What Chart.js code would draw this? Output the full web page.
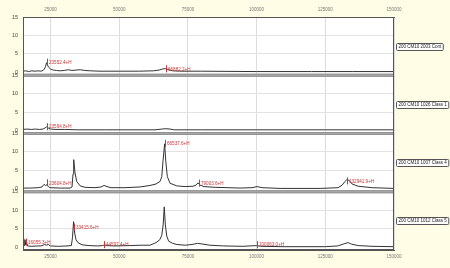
<!DOCTYPE html>
<html><head><meta charset="utf-8">
<script src="https://cdn.jsdelivr.net/npm/chart.js@4/dist/chart.umd.min.js"></script>
<style>html,body{margin:0;padding:0;background:#fffde6;}canvas{display:block;}</style>
</head><body>
<canvas id="c" width="450" height="268" style="width:450px;height:268px"></canvas>
<script>
// ---- data ----
const xTicks = [25000, 50000, 75000, 100000, 125000, 150000];
const yTicks = [0, 5, 10, 15];
const sampleNames = ["200 CM10 2003 Cont", "200 CM10 1026 Class 1", "200 CM10 1007 Class 4", "200 CM10 1012 Class 5"];

const contMass = [15000,16000,17000,18200,19400,20500,21500,22300,22800,23200,23550,23900,24300,25000,26000,27200,28500,30000,31500,32800,34300,35800,37500,39500,43000,50000,57000,62500,64500,65800,66900,68000,69500,72000,80000,100000,120000,135000,150000];
const contInt  = [0.3,0.4,0.2,0.4,0.3,0.4,0.3,0.5,0.9,1.6,2.6,2.0,1.4,0.9,0.6,0.5,0.4,0.5,0.7,0.5,0.6,0.7,0.5,0.4,0.3,0.3,0.3,0.4,0.6,0.9,1.0,0.7,0.4,0.3,0.3,0.2,0.2,0.2,0.2];

const c1Mass = [15000,16500,18000,19500,21000,22300,23000,23600,24200,25000,27000,30000,35000,45000,55000,63000,65500,67000,68500,70000,80000,100000,125000,150000];
const c1Int  = [0.3,0.4,0.3,0.4,0.3,0.4,0.7,1.0,0.7,0.4,0.3,0.3,0.2,0.2,0.2,0.2,0.4,0.5,0.4,0.2,0.2,0.2,0.2,0.2];

const c4Mass = [15000,17500,20500,21900,22650,23190,23740,24280,24830,28500,32100,32840,33200,33450,33930,34550,35750,37570,41200,43400,44480,45580,47000,52100,57600,61200,63400,64870,65490,65960,66540,66940,67520,68500,70950,73970,76880,77970,78700,79430,80880,84890,94000,98360,100180,102000,108550,123100,129660,131120,132210,132940,134030,134760,136940,142040,150000];
const c4Int  = [0.2,0.2,0.3,0.5,1.2,0.9,1.1,0.6,0.3,0.2,0.2,0.5,4.0,7.9,4.3,2.0,0.8,0.4,0.3,0.5,0.9,0.6,0.3,0.3,0.5,0.9,1.3,2.0,3.3,7.6,12.2,7.6,3.3,1.5,0.8,0.6,0.7,1.0,1.6,1.0,0.6,0.4,0.2,0.3,0.6,0.3,0.1,0.1,0.3,1.0,2.0,2.6,2.0,1.3,0.7,0.3,0.1];

const c5Mass = [15000,15200,15450,15700,16000,16300,16700,18000,20000,21500,22300,22900,23500,24200,25000,28000,31000,32600,33000,33400,33800,34300,35000,36500,39000,42000,44000,44600,45300,48000,54000,58000,61200,63400,64800,65500,66000,66400,66800,67300,68000,69500,71000,74000,76500,78500,80500,83000,88000,95000,100000,101500,110000,125000,129500,131500,133300,134500,137000,142000,150000];
const c5Int  = [0.5,2.5,0.4,2.0,0.6,1.2,0.3,0.2,0.3,0.3,0.5,0.7,0.5,0.7,0.3,0.2,0.3,0.4,2.5,6.9,3.8,2.0,1.2,0.6,0.4,0.3,0.4,0.6,0.4,0.3,0.4,0.5,0.5,1.2,2.0,3.2,6.0,10.9,6.0,3.0,1.6,1.0,0.7,0.5,0.7,1.0,0.8,0.5,0.3,0.2,0.4,0.2,0.1,0.1,0.3,0.8,1.2,0.8,0.4,0.2,0.1];

// labelled peaks: mass and the intensity level where the label sits
const contPeakMass = [23552.4, 66882.2];            const contPeakLevel = [2.6, 0.8];
const c1PeakMass   = [23594.8];                     const c1PeakLevel   = [0.9];
const c4PeakMass   = [23604.8, 66537.6, 79003.6, 132941.9]; const c4PeakLevel = [1.5, 12.2, 1.4, 2.0];
const c5PeakMass   = [16055.3, 33415.6, 44597.4, 100063.0]; const c5PeakLevel = [1.2, 5.3, 0.5, 0.5];

// ---- build ----
const panels = [
  {mass: contMass, int: contInt, pm: contPeakMass, pl: contPeakLevel},
  {mass: c1Mass, int: c1Int, pm: c1PeakMass, pl: c1PeakLevel},
  {mass: c4Mass, int: c4Int, pm: c4PeakMass, pl: c4PeakLevel},
  {mass: c5Mass, int: c5Int, pm: c5PeakMass, pl: c5PeakLevel}
];
const FONT = "'Liberation Sans', Arial, sans-serif";

const datasets = panels.map((p, i) => ({
  label: sampleNames[i],
  data: p.mass.map((m, k) => ({x: m, y: p.int[k]})),
  yAxisID: 'p' + i,
  xAxisID: 'x',
  borderColor: '#333333',
  borderWidth: 1,
  pointRadius: 0,
  tension: 0,
  fill: false
}));

const scales = {
  x: {
    type: 'linear', position: 'bottom', min: 15000, max: 150000,
    afterBuildTicks: s => { s.ticks = xTicks.map(v => ({value: v})); },
    ticks: {callback: v => String(v), font: {size: 4.5, family: FONT}, color: '#777', padding: 4, maxRotation: 0, autoSkip: false},
    grid: {color: '#dddddd', drawTicks: false},
    border: {color: '#555'},
    afterFit: s => { s.height = 18; }
  },
  x2: {
    type: 'linear', position: 'top', min: 15000, max: 150000,
    afterBuildTicks: s => { s.ticks = xTicks.map(v => ({value: v})); },
    ticks: {callback: v => String(v), font: {size: 4.5, family: FONT}, color: '#777', padding: 5, maxRotation: 0, autoSkip: false},
    grid: {display: false, drawTicks: false},
    border: {color: '#555'},
    afterFit: s => { s.height = 17; }
  }
};
panels.forEach((p, i) => {
  scales['p' + i] = {
    type: 'linear', position: 'left', stack: 'spec', stackWeight: 1, weight: 4 - i,
    min: -0.8, max: 15,
    afterBuildTicks: s => { s.ticks = yTicks.map(v => ({value: v})); },
    ticks: {font: {size: 5.5, family: FONT}, color: '#444', padding: 5},
    grid: {drawTicks: false, color: c => (c.tick && (c.tick.value === 5 || c.tick.value === 10)) ? '#e2e2e2' : 'rgba(0,0,0,0)'},
    border: {color: '#555'},
    afterFit: s => { s.width = 23; }
  };
});

const decor = {
  id: 'decor',
  beforeDraw(chart) {
    const a = chart.chartArea, ctx = chart.ctx;
    ctx.save();
    ctx.fillStyle = '#ffffff';
    ctx.fillRect(a.left, a.top, a.right - a.left, a.bottom - a.top);
    ctx.restore();
  },
  beforeDatasetsDraw(chart) {
    const a = chart.chartArea, ctx = chart.ctx;
    ctx.save();
    for (let i = 0; i < 3; i++) {
      const s = chart.scales['p' + i];
      ctx.fillStyle = '#a6a6a6';
      ctx.fillRect(a.left, s.bottom - 1.5, a.right - a.left, 3);
      ctx.fillStyle = '#8a8a8a';
      ctx.fillRect(a.left, s.bottom - 1.5, a.right - a.left, 0.7);
      ctx.fillRect(a.left, s.bottom + 0.8, a.right - a.left, 0.7);
    }
    ctx.restore();
  },
  afterDatasetsDraw(chart) {
    const a = chart.chartArea, ctx = chart.ctx, xs = chart.scales.x;
    ctx.save();
    // peak labels
    ctx.font = '4.6px ' + FONT;
    ctx.textBaseline = 'middle';
    ctx.textAlign = 'left';
    panels.forEach((p, i) => {
      const ys = chart.scales['p' + i];
      p.pm.forEach((m, k) => {
        const px = Math.round(xs.getPixelForValue(m)) + 0.5;
        const py = ys.getPixelForValue(p.pl[k]);
        ctx.strokeStyle = '#cc3333';
        ctx.lineWidth = 1;
        ctx.beginPath();
        ctx.moveTo(px, Math.max(py - 4, ys.top));
        ctx.lineTo(px, py + 3);
        ctx.stroke();
        ctx.fillStyle = '#cc3333';
        ctx.fillText(m.toFixed(1) + '+H', px + 1.5, py);
      });
    });
    // frame
    ctx.strokeStyle = '#555';
    ctx.lineWidth = 1;
    ctx.strokeRect(a.left + 0.5, a.top + 0.5, a.right - a.left - 1, a.bottom - a.top - 1);
    // sample name boxes
    ctx.font = '4.5px ' + FONT;
    panels.forEach((p, i) => {
      const ys = chart.scales['p' + i];
      const cy = (ys.top + ys.bottom) / 2;
      const w = ctx.measureText(sampleNames[i]).width + 4;
      const bx = a.right + 2.5;
      ctx.fillStyle = '#ffffff';
      ctx.strokeStyle = '#555';
      ctx.beginPath();
      ctx.roundRect(bx, Math.round(cy - 3.5) + 0.5, w, 7, 1);
      ctx.fill();
      ctx.stroke();
      ctx.fillStyle = '#222';
      ctx.fillText(sampleNames[i], bx + 2, Math.round(cy - 3.5) + 4);
    });
    ctx.restore();
  }
};

new Chart(document.getElementById('c'), {
  type: 'line',
  data: {datasets},
  options: {
    responsive: false,
    animation: false,
    parsing: true,
    layout: {padding: {left: 0, right: 56, top: 0, bottom: 0}},
    plugins: {legend: {display: false}, tooltip: {enabled: false}},
    scales
  },
  plugins: [decor]
});
</script>
</body></html>
